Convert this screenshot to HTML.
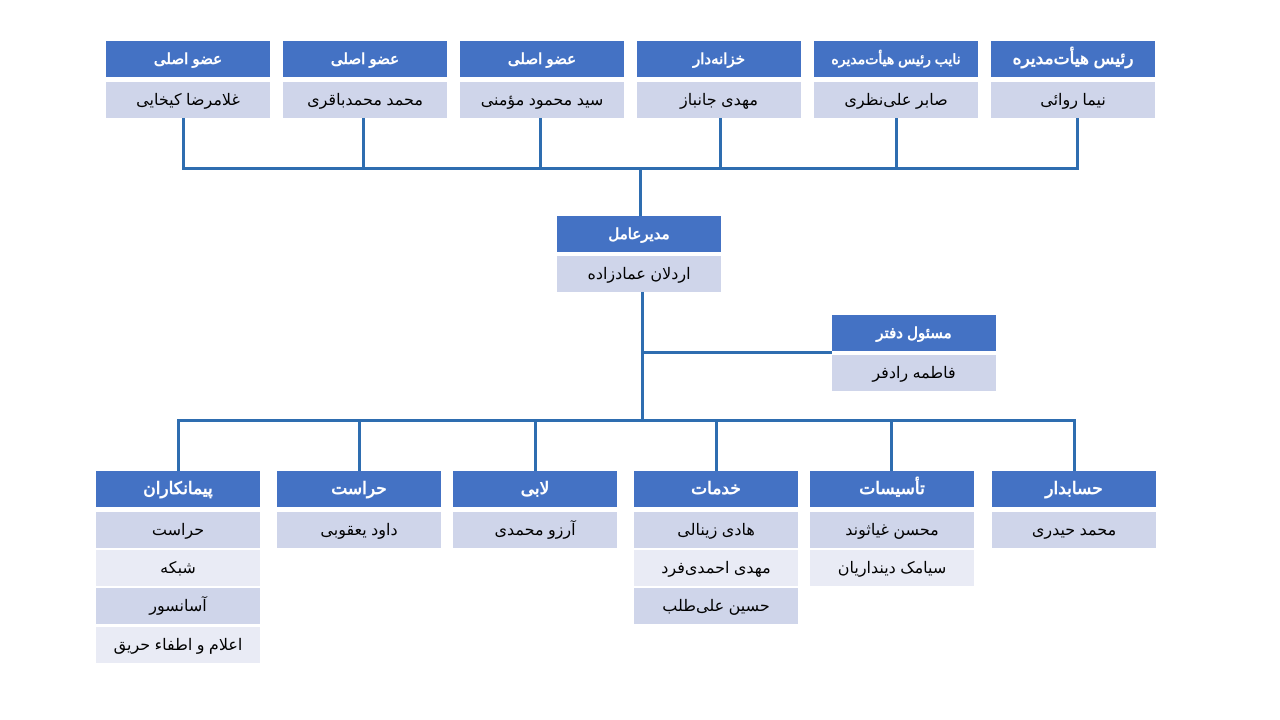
<!DOCTYPE html>
<html><head><meta charset="utf-8"><style>
body{margin:0;width:1280px;height:720px;background:#fff;position:relative;overflow:hidden;font-family:"Liberation Sans","Noto Sans CJK SC",sans-serif;direction:rtl}
.h,.r{position:absolute;width:164px;display:flex;align-items:center;justify-content:center;text-align:center}
.h{background:#4472C4;color:#fff;font-weight:bold;font-size:15px;height:36px}
.r{background:#CFD5EA;color:#000;font-size:16px;height:36px}
.r2{background:#E9EBF5}
.l{position:absolute;background:#2E6DB0}
.b{font-size:17px}
</style></head><body>
<!-- lines -->
<div class="l" style="left:182px;top:167px;width:897px;height:3px"></div>
<div class="l" style="left:182px;top:118px;width:3px;height:51px"></div>
<div class="l" style="left:362px;top:118px;width:3px;height:51px"></div>
<div class="l" style="left:539px;top:118px;width:3px;height:51px"></div>
<div class="l" style="left:719px;top:118px;width:3px;height:51px"></div>
<div class="l" style="left:895px;top:118px;width:3px;height:51px"></div>
<div class="l" style="left:1076px;top:118px;width:3px;height:51px"></div>
<div class="l" style="left:639px;top:167px;width:3px;height:49px"></div>
<div class="l" style="left:641px;top:292px;width:3px;height:129px"></div>
<div class="l" style="left:641px;top:351px;width:191px;height:3px"></div>
<div class="l" style="left:177px;top:419px;width:899px;height:3px"></div>
<div class="l" style="left:177px;top:419px;width:3px;height:52px"></div>
<div class="l" style="left:358px;top:419px;width:3px;height:52px"></div>
<div class="l" style="left:534px;top:419px;width:3px;height:52px"></div>
<div class="l" style="left:715px;top:419px;width:3px;height:52px"></div>
<div class="l" style="left:890px;top:419px;width:3px;height:52px"></div>
<div class="l" style="left:1073px;top:419px;width:3px;height:52px"></div>
<!-- top -->
<div class="h" style="left:106px;top:41px">عضو اصلی</div><div class="r" style="left:106px;top:82px">غلامرضا کیخایی</div>
<div class="h" style="left:283px;top:41px">عضو اصلی</div><div class="r" style="left:283px;top:82px">محمد محمدباقری</div>
<div class="h" style="left:460px;top:41px">عضو اصلی</div><div class="r" style="left:460px;top:82px">سید محمود مؤمنی</div>
<div class="h" style="left:637px;top:41px">خزانه‌دار</div><div class="r" style="left:637px;top:82px">مهدی جانباز</div>
<div class="h" style="left:814px;top:41px;font-size:14px">نایب رئیس هیأت‌مدیره</div><div class="r" style="left:814px;top:82px">صابر علی‌نظری</div>
<div class="h b" style="left:991px;top:41px">رئیس هیأت‌مدیره</div><div class="r" style="left:991px;top:82px">نیما روائی</div>
<!-- manager -->
<div class="h" style="left:557px;top:216px">مدیرعامل</div><div class="r" style="left:557px;top:256px">اردلان عمادزاده</div>
<div class="h" style="left:832px;top:315px">مسئول دفتر</div><div class="r" style="left:832px;top:355px">فاطمه رادفر</div>
<!-- bottom -->
<div class="h b" style="left:96px;top:471px">پیمانکاران</div>
<div class="r" style="left:96px;top:512px">حراست</div>
<div class="r r2" style="left:96px;top:550px">شبکه</div>
<div class="r" style="left:96px;top:588px">آسانسور</div>
<div class="r r2" style="left:96px;top:627px">اعلام و اطفاء حریق</div>
<div class="h b" style="left:277px;top:471px">حراست</div><div class="r" style="left:277px;top:512px">داود یعقوبی</div>
<div class="h b" style="left:453px;top:471px">لابی</div><div class="r" style="left:453px;top:512px">آرزو محمدی</div>
<div class="h b" style="left:634px;top:471px">خدمات</div>
<div class="r" style="left:634px;top:512px">هادی زینالی</div>
<div class="r r2" style="left:634px;top:550px">مهدی احمدی‌فرد</div>
<div class="r" style="left:634px;top:588px">حسین علی‌طلب</div>
<div class="h b" style="left:810px;top:471px">تأسیسات</div>
<div class="r" style="left:810px;top:512px">محسن غیاثوند</div>
<div class="r r2" style="left:810px;top:550px">سیامک دینداریان</div>
<div class="h b" style="left:992px;top:471px">حسابدار</div><div class="r" style="left:992px;top:512px">محمد حیدری</div>
</body></html>
